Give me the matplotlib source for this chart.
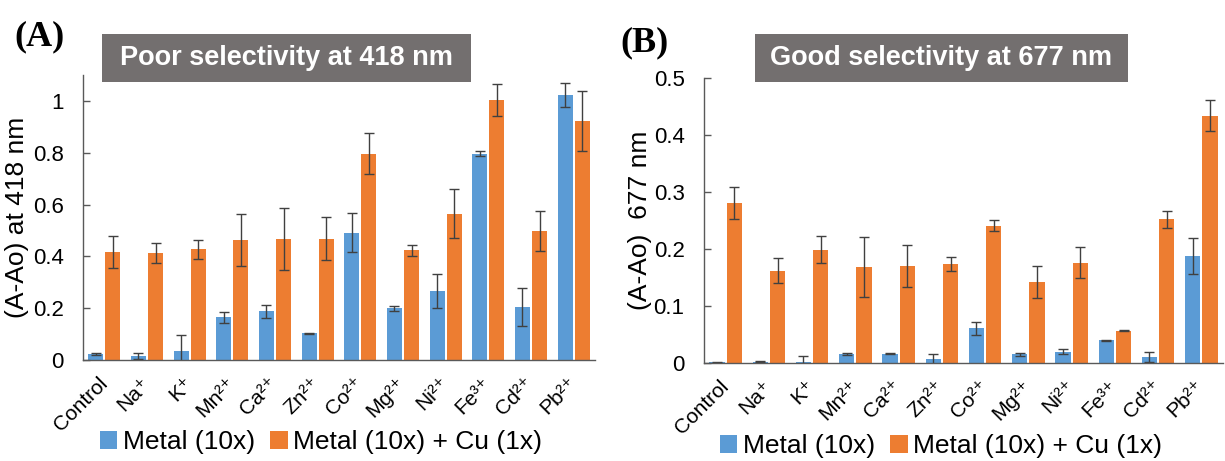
import numpy as np
import matplotlib
matplotlib.use("Agg")
import matplotlib.pyplot as plt
from matplotlib.patches import Rectangle

plt.rcParams['font.family'] = ['Liberation Sans', 'DejaVu Sans']

# categories and values
categories = ['Control', 'Na⁺', 'K⁺', 'Mn²⁺', 'Ca²⁺', 'Zn²⁺', 'Co²⁺',
              'Mg²⁺', 'Ni²⁺', 'Fe³⁺', 'Cd²⁺', 'Pb²⁺']
series_names = ['Metal (10x)', 'Metal (10x) + Cu (1x)']

# panel A: absorbance change at 418 nm
a_metal = [0.023, 0.015, 0.035, 0.165, 0.188, 0.103, 0.492, 0.199, 0.265, 0.797, 0.205, 1.023]
a_metal_err = [0.005, 0.012, 0.060, 0.022, 0.025, 0.003, 0.077, 0.010, 0.066, 0.010, 0.073, 0.045]
a_cu = [0.417, 0.413, 0.427, 0.462, 0.468, 0.468, 0.797, 0.423, 0.564, 1.005, 0.498, 0.923]
a_cu_err = [0.063, 0.040, 0.037, 0.100, 0.120, 0.082, 0.078, 0.022, 0.095, 0.062, 0.078, 0.117]

# panel B: absorbance change at 677 nm
b_metal = [0.001, 0.002, 0.001, 0.016, 0.016, 0.007, 0.061, 0.015, 0.020, 0.040, 0.011, 0.188]
b_metal_err = [0.0005, 0.001, 0.012, 0.002, 0.001, 0.008, 0.011, 0.002, 0.004, 0.001, 0.009, 0.031]
b_cu = [0.280, 0.162, 0.199, 0.168, 0.170, 0.174, 0.241, 0.142, 0.176, 0.057, 0.252, 0.434]
b_cu_err = [0.028, 0.022, 0.024, 0.053, 0.037, 0.012, 0.009, 0.028, 0.027, 0.001, 0.015, 0.027]

BLUE = '#5B9BD5'
ORANGE = '#ED7D31'
BOX_GRAY = '#736F6F'
AXIS_GRAY = '#595959'


def draw_panel(fig, rect, metal, metal_err, cu, cu_err, ylim, yticks, yticklabels,
               ylabel, ylabel_x, title, title_rect, letter, letter_xy, legend_xy):
    ax = fig.add_axes(rect)
    x = np.arange(len(categories))
    w = 0.35
    ekw = dict(ecolor='#404040', elinewidth=1.0, capsize=3.5, capthick=1.0)
    h1 = ax.bar(x - 0.2, metal, w, yerr=metal_err, color=BLUE, error_kw=ekw, label=series_names[0])
    h2 = ax.bar(x + 0.2, cu, w, yerr=cu_err, color=ORANGE, error_kw=ekw, label=series_names[1])

    ax.set_xlim(-0.5, len(categories) - 0.5)
    ax.set_ylim(*ylim)
    ax.set_yticks(yticks)
    ax.set_yticklabels(yticklabels, fontsize=16)
    ax.set_xticks(x)
    ax.set_xticklabels(categories, rotation=45, ha='right', va='center',
                       rotation_mode='anchor', fontsize=15)
    ax.tick_params(axis='x', length=0, pad=15)
    ax.tick_params(axis='y', direction='in', length=5, width=1, color=AXIS_GRAY, pad=14)
    for side in ['top', 'right']:
        ax.spines[side].set_visible(False)
    for side in ['left', 'bottom']:
        ax.spines[side].set_color(AXIS_GRAY)
        ax.spines[side].set_linewidth(1.0)

    ax.set_ylabel(ylabel, fontsize=19, va='center')
    ax.yaxis.set_label_coords(ylabel_x, 0.5)

    # grey title box
    fig.patches.append(Rectangle(title_rect[:2], title_rect[2], title_rect[3],
                                 transform=fig.transFigure, facecolor=BOX_GRAY,
                                 edgecolor='none', zorder=5))
    fig.text(title_rect[0] + title_rect[2] / 2, title_rect[1] + title_rect[3] / 2, title,
             color='white', fontsize=19.5, fontweight='bold', ha='center', va='center', zorder=6)

    fig.text(letter_xy[0], letter_xy[1], letter, fontsize=26, fontweight='bold',
             family='Liberation Serif', ha='center', va='center')

    fig.legend([h1, h2], series_names, loc='center', bbox_to_anchor=legend_xy,
               bbox_transform=fig.transFigure, ncol=2, frameon=False, fontsize=19,
               handlelength=0.65, handleheight=0.65, handletextpad=0.2,
               columnspacing=0.6, borderpad=0, borderaxespad=0)
    return ax


W, H = 1225, 461
fig = plt.figure(figsize=(W / 100, H / 100), dpi=100)


def fx(px):
    return px / W


def fy(py):
    return 1 - py / H


draw_panel(fig, [fx(83), fy(360), fx(595 - 83), (360 - 75) / H],
           a_metal, a_metal_err, a_cu, a_cu_err,
           (0, 1.1), [0, 0.2, 0.4, 0.6, 0.8, 1.0], ['0', '0.2', '0.4', '0.6', '0.8', '1'],
           '(A-Ao) at 418 nm', -0.128,
           'Poor selectivity at 418 nm', [fx(102), fy(82), fx(471 - 102), (82 - 34) / H],
           '(A)', (fx(39), fy(37)), (fx(321), fy(442)))

draw_panel(fig, [fx(704), fy(363), fx(1223 - 704), (363 - 78) / H],
           b_metal, b_metal_err, b_cu, b_cu_err,
           (0, 0.5), [0, 0.1, 0.2, 0.3, 0.4, 0.5], ['0', '0.1', '0.2', '0.3', '0.4', '0.5'],
           '(A-Ao)  677 nm', -0.123,
           'Good selectivity at 677 nm', [fx(755), fy(82), fx(1128 - 755), (82 - 34) / H],
           '(B)', (fx(645), fy(43)), (fx(941), fy(446)))

fig.savefig('out.png', dpi=100)
